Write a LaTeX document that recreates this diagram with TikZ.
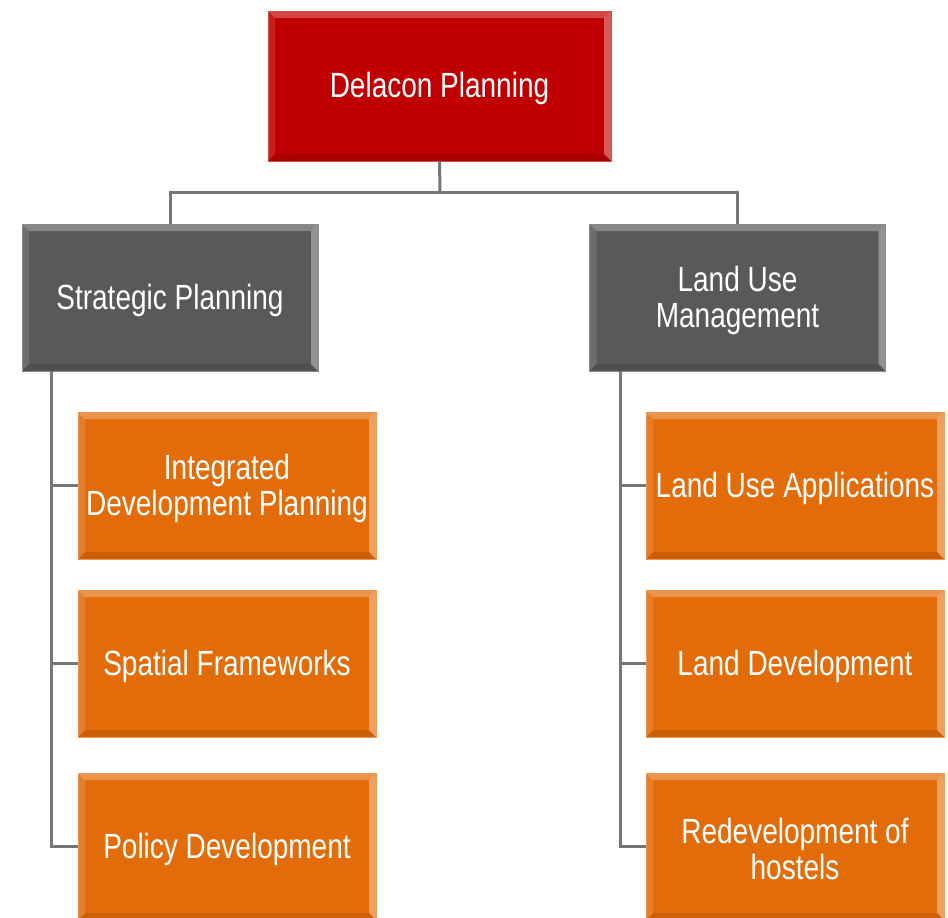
\documentclass[tikz,border=0pt]{standalone}
\usepackage{fontspec}
\setmainfont{Liberation Sans}[FakeStretch=0.8]
\definecolor{topred}{HTML}{C00000}
\definecolor{midgray}{HTML}{595959}
\definecolor{leaforange}{HTML}{E36C0A}
\definecolor{linkgray}{HTML}{767676}
\tikzset{
  bevelbox/.style={rectangle, fill=#1, draw=#1!70!white, line width=1pt,
    minimum width=296pt, minimum height=147pt, inner sep=0pt, align=center,
    text=white, font=\fontsize{35}{36}\selectfont, text height=31pt,
    path picture={
      \fill[white,opacity=0.28] (path picture bounding box.north west) -- (path picture bounding box.north east)
        -- ([xshift=-7pt,yshift=-7pt]path picture bounding box.north east) -- ([xshift=7pt,yshift=-7pt]path picture bounding box.north west) -- cycle;
      \fill[white,opacity=0.12] (path picture bounding box.north west) -- (path picture bounding box.south west)
        -- ([xshift=7pt,yshift=7pt]path picture bounding box.south west) -- ([xshift=7pt,yshift=-7pt]path picture bounding box.north west) -- cycle;
      \fill[white,opacity=0.35] (path picture bounding box.north east) -- (path picture bounding box.south east)
        -- ([xshift=-7pt,yshift=7pt]path picture bounding box.south east) -- ([xshift=-7pt,yshift=-7pt]path picture bounding box.north east) -- cycle;
      \fill[black,opacity=0.10] (path picture bounding box.south west) -- (path picture bounding box.south east)
        -- ([xshift=-7pt,yshift=7pt]path picture bounding box.south east) -- ([xshift=7pt,yshift=7pt]path picture bounding box.south west) -- cycle;
    }},
  twoline/.style={text height=67pt},
  link/.style={draw=linkgray, line width=3pt}
}
\begin{document}
\begin{tikzpicture}[x=1pt,y=-1pt]
\useasboundingbox (0,0) rectangle (948,918);
\coordinate (bus) at (440,192);
\coordinate (lv) at (51,371);
\coordinate (rv) at (620,371);
\node[bevelbox=topred, minimum width=343pt, minimum height=150pt] (top) at (439.5,86) {Delacon Planning};
\node[bevelbox=midgray] (sp) at (170,297.5) {Strategic Planning};
\node[bevelbox=midgray, twoline] (lu) at (737.5,297.5) {Land Use\\Management};
\draw[link] (top.south) -- (bus);
\draw[link] (sp.north) |- (bus) -| (lu.north);
\node[bevelbox=leaforange, minimum width=298pt, twoline] (c1) at (227,485.5) {Integrated\\Development Planning};
\node[bevelbox=leaforange, minimum width=298pt] (c2) at (227,663.5) {Spatial Frameworks};
\node[bevelbox=leaforange, minimum width=298pt] (c3) at (227,846.5) {Policy Development};
\node[bevelbox=leaforange, minimum width=298pt] (d1) at (795,485.5) {Land Use Applications};
\node[bevelbox=leaforange, minimum width=298pt] (d2) at (795,663.5) {Land Development};
\node[bevelbox=leaforange, minimum width=298pt, twoline] (d3) at (795,846.5) {Redevelopment of\\hostels};
\draw[link] (lv) |- (c3.west);
\draw[link] (lv |- c1.west) -- (c1.west);
\draw[link] (lv |- c2.west) -- (c2.west);
\draw[link] (rv) |- (d3.west);
\draw[link] (rv |- d1.west) -- (d1.west);
\draw[link] (rv |- d2.west) -- (d2.west);
\end{tikzpicture}
\end{document}
